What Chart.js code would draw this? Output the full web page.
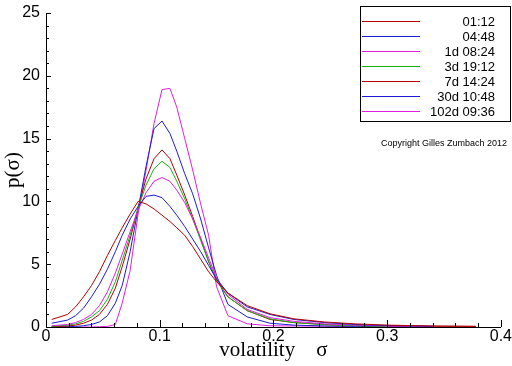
<!DOCTYPE html>
<html>
<head>
<meta charset="utf-8">
<script src="https://cdn.jsdelivr.net/npm/chart.js@4/dist/chart.umd.min.js"></script>
<style>
  html, body { margin: 0; padding: 0; background: #ffffff; }
  #wrap { width: 512px; height: 366px; }
</style>
</head>
<body>
<div id="wrap"><canvas id="c" width="512" height="366"></canvas></div>
<script>
// ---- data ----
const sigma = [0.005, 0.019, 0.026, 0.033, 0.040, 0.047, 0.054, 0.061, 0.067, 0.074,
               0.081, 0.088, 0.095, 0.102, 0.109, 0.115, 0.122, 0.129, 0.136, 0.143,
               0.150, 0.160, 0.177, 0.197, 0.218, 0.245, 0.272, 0.300, 0.340, 0.378];

const seriesLabels = ["01:12", "04:48", "1d 08:24", "3d 19:12", "7d 14:24", "30d 10:48", "102d 09:36"];

const p_0112 = [0.6, 1.0, 1.6, 2.4, 3.3, 4.4, 5.7, 6.9, 7.9, 9.0,
                10.0, 9.8, 9.4, 8.9, 8.4, 7.9, 7.3, 6.4, 5.4, 4.4,
                3.6, 2.7, 1.7, 1.05, 0.65, 0.4, 0.25, 0.15, 0.08, 0.05];
const p_0448 = [0.3, 0.55, 0.9, 1.5, 2.4, 3.4, 4.6, 6.0, 7.3, 8.6,
                9.6, 10.4, 10.5, 10.3, 9.6, 8.9, 8.0, 7.0, 6.0, 4.9,
                3.8, 2.7, 1.6, 1.0, 0.6, 0.35, 0.2, 0.12, 0.06, null];
const p_1d = [0.1, 0.2, 0.35, 0.6, 1.0, 1.7, 2.8, 4.3, 5.8, 7.6,
              9.3, 10.7, 11.6, 11.9, 11.6, 10.9, 9.9, 8.6, 7.1, 5.5,
              3.9, 2.6, 1.4, 0.75, 0.45, 0.25, 0.15, 0.08, 0.04, null];
const p_3d = [0.05, 0.15, 0.25, 0.45, 0.8, 1.3, 2.2, 3.6, 5.3, 7.3,
              9.5, 11.3, 12.6, 13.2, 12.7, 11.6, 10.2, 8.6, 6.9, 5.2,
              3.7, 2.4, 1.3, 0.65, 0.35, 0.18, 0.1, 0.05, null, null];
const p_7d = [0.02, 0.08, 0.15, 0.3, 0.55, 1.0, 1.8, 3.1, 4.8, 7.0,
              9.5, 11.8, 13.4, 14.1, 13.4, 12.1, 10.5, 8.8, 7.0, 5.2,
              3.7, 2.4, 1.3, 0.6, 0.35, 0.2, 0.12, 0.08, 0.06, 0.05];
const p_30d = [0.0, 0.02, 0.05, 0.1, 0.2, 0.4, 0.9, 1.9, 3.3, 6.0,
               9.4, 12.8, 15.8, 16.4, 15.4, 14.0, 12.2, 10.6, 8.6, 6.3,
               4.1, 1.8, 0.8, 0.3, 0.15, 0.08, 0.05, 0.03, 0.02, null];
const p_102d = [0.0, 0.0, 0.0, 0.0, 0.0, 0.02, 0.05, 0.2, 1.9, 4.5,
                9.0, 12.5, 16.2, 18.9, 19.0, 17.5, 15.0, 12.5, 9.8, 7.3,
                3.2, 0.9, 0.25, 0.1, 0.08, 0.06, 0.05, 0.04, null, null];

const seriesColors = ["#b40000", "#1c1cd0", "#e01ee0", "#18b018", "#b40000", "#1c1cd0", "#e01ee0"];

const xTicks = [0, 0.1, 0.2, 0.3, 0.4];
const yTicks = [0, 5, 10, 15, 20, 25];
const xTitle = "volatility\u2003σ";
const yTitle = "p(σ)";
const copyright = "Copyright Gilles Zumbach 2012";

// ---- build datasets ----
const allSeries = [p_0112, p_0448, p_1d, p_3d, p_7d, p_30d, p_102d];
const datasets = allSeries.map((vals, k) => ({
  label: seriesLabels[k],
  data: sigma.map((s, i) => ({ x: s, y: vals[i] })),
  borderColor: seriesColors[k],
  backgroundColor: seriesColors[k],
  borderWidth: 1,
  pointRadius: 0,
  tension: 0,
  fill: false,
  spanGaps: false
}));

// inward ticks, legend box, copyright
const decor = {
  id: 'decor',
  afterDraw(chart) {
    const ctx = chart.ctx;
    const xs = chart.scales.x, ys = chart.scales.y;
    const area = chart.chartArea;
    ctx.save();
    ctx.fillStyle = '#000';
    // y ticks (inward)
    for (let v = 0; v <= 25; v++) {
      const py = Math.round(ys.getPixelForValue(v));
      const len = (v % 5 === 0) ? 5 : 3;
      ctx.fillRect(Math.round(area.left), py, len, 1);
    }
    // x ticks (inward)
    for (let k = 0; k <= 20; k++) {
      const v = k * 0.02;
      const px = Math.round(xs.getPixelForValue(v));
      const len = (k % 5 === 0) ? 7 : 4;
      ctx.fillRect(px, Math.round(area.bottom) - len, 1, len);
    }

    // legend
    const bx = 360, by = 6, bw = 151, bh = 116;
    ctx.fillStyle = '#000';
    ctx.fillRect(bx, by, bw, 1);
    ctx.fillRect(bx, by + bh - 1, bw, 1);
    ctx.fillRect(bx, by, 1, bh);
    ctx.fillRect(bx + bw - 1, by, 1, bh);
    ctx.font = '13px "Liberation Sans", Arial, sans-serif';
    ctx.textAlign = 'right';
    ctx.textBaseline = 'middle';
    const dsList = chart.data.datasets;
    for (let i = 0; i < dsList.length; i++) {
      const ly = 21 + i * 15;
      ctx.fillStyle = seriesColors[i];
      ctx.fillRect(362, ly, 58, 1);
      ctx.fillStyle = '#000';
      ctx.fillText(dsList[i].label, 495, ly + 1);
    }

    // copyright
    ctx.font = '9px "Liberation Sans", Arial, sans-serif';
    ctx.fillStyle = '#000';
    ctx.textAlign = 'right';
    ctx.fillText(copyright, 507, 144);
    ctx.restore();
  }
};

new Chart(document.getElementById('c'), {
  type: 'line',
  data: { datasets },
  options: {
    responsive: false,
    animation: false,
    devicePixelRatio: 1,
    layout: { padding: { top: 0, right: 11, left: 0, bottom: 0 } },
    plugins: {
      legend: { display: false },
      tooltip: { enabled: false },
      title: { display: false }
    },
    scales: {
      x: {
        type: 'linear',
        min: 0, max: 0.4,
        afterBuildTicks: (s) => { s.ticks = xTicks.map(v => ({ value: v })); },
        afterFit: (s) => { s.height = 39; },
        grid: { display: false, drawTicks: false },
        border: { display: true, color: '#000', width: 1 },
        ticks: {
          padding: 0,
          color: '#000',
          font: { family: '"Liberation Sans Narrow", "Liberation Sans", sans-serif', size: 16 },
          callback: (v) => (v === 0 ? '0' : Number(v).toFixed(1))
        },
        title: {
          display: true,
          text: xTitle,
          color: '#000',
          font: { family: '"Liberation Serif", "Times New Roman", serif', size: 21 },
          padding: { top: 0, bottom: 3 }
        }
      },
      y: {
        type: 'linear',
        min: 0, max: 25,
        afterBuildTicks: (s) => { s.ticks = yTicks.map(v => ({ value: v })); },
        afterFit: (s) => { s.width = 46; },
        grid: { display: false, drawTicks: false },
        border: { display: true, color: '#000', width: 1 },
        ticks: {
          padding: 6,
          color: '#000',
          font: { family: '"Liberation Sans Narrow", "Liberation Sans", sans-serif', size: 16, lineHeight: 0.875 },
          callback: (v) => String(v)
        },
        title: {
          display: true,
          text: yTitle,
          color: '#000',
          font: { family: '"Liberation Serif", "Times New Roman", serif', size: 21 },
          padding: { top: 1, bottom: 0 }
        }
      }
    }
  },
  plugins: [decor]
});
</script>
</body>
</html>
